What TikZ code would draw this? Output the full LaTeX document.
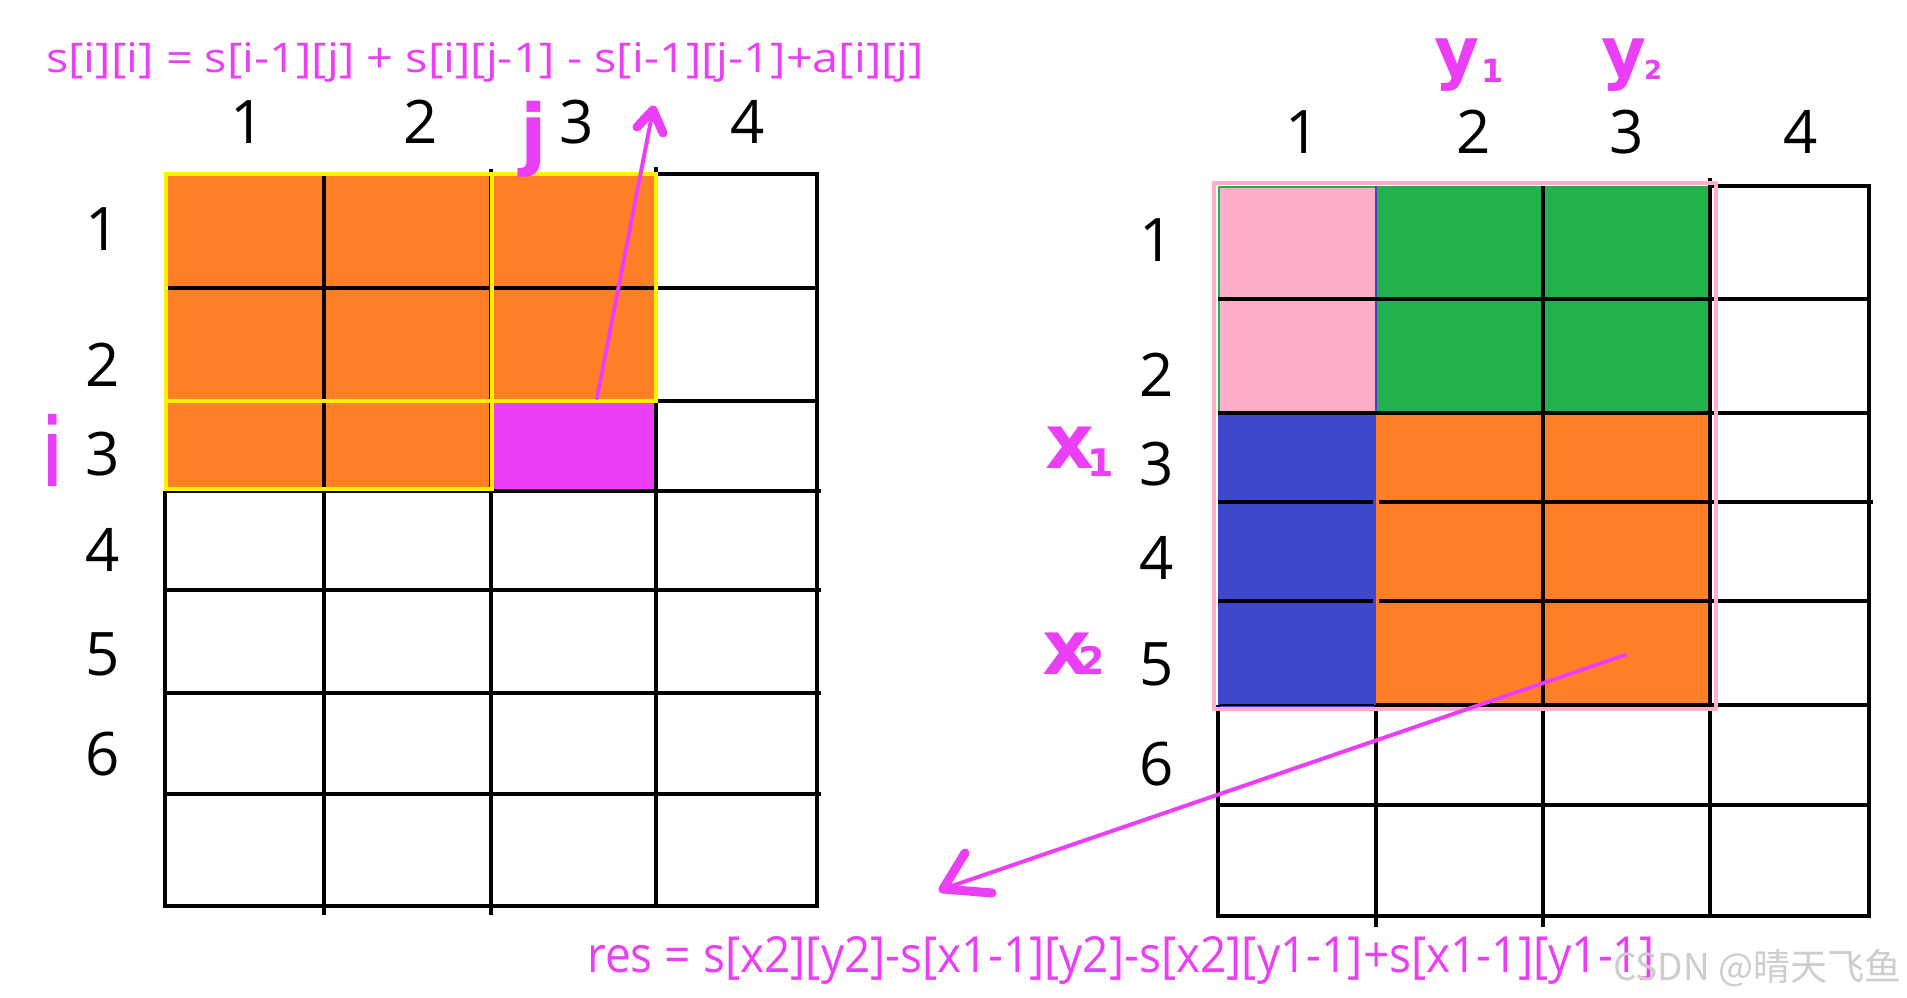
\documentclass[tikz,border=0pt]{standalone}
\usepackage{graphicx}
\usepackage{fontspec}
\setmainfont{Open Sans}
\newfontfamily\cjkfont{Noto Sans CJK SC}
\newfontfamily\handfont{DejaVu Sans}
\definecolor{porange}{HTML}{FF7F27}
\definecolor{pmag}{HTML}{EA3FF7}
\definecolor{pyellow}{HTML}{FFF200}
\definecolor{ppink}{HTML}{FFAEC9}
\definecolor{pgreen}{HTML}{22B14C}
\definecolor{pblue}{HTML}{3F48CC}
\definecolor{wmgray}{HTML}{CDCDCD}
\tikzset{
  gridline/.style={black, line width=4pt},
  yline/.style={pyellow, line width=4pt},
  lab/.style={inner sep=0pt, font=\fontsize{60}{60}\selectfont},
  hand/.style={inner sep=0pt, text=pmag, anchor=base},
  handb/.style={inner sep=0pt, text=pmag, anchor=base west, font=\handfont\bfseries},
  formula/.style={inner sep=0pt, text=pmag, anchor=base west},
  pen/.style={pmag, line width=4pt, line cap=round, line join=round},
  penhead/.style={pmag, line width=9pt, line cap=round, line join=round},
}
\begin{document}
\begin{tikzpicture}[x=1pt,y=-1pt]
\useasboundingbox[fill=white] (0,0) rectangle (1907,998);

% ---------- left grid ----------
\fill[porange] (165,174) rectangle (656,491);
\fill[pmag] (491,401) rectangle (656,491);
\draw[gridline] (656,174) -- (817,174);
\draw[gridline] (165,288) -- (817,288);
\draw[gridline] (656,401) -- (817,401);
\foreach \yy in {491,590,693,794} \draw[gridline] (165,\yy) -- (821,\yy);
\draw[gridline] (163,906) -- (819,906);
\draw[gridline] (165,491) -- (165,906);
\draw[gridline] (323.5,174) -- (323.5,915);
\draw[gridline] (491,169) -- (491,915);
\draw[gridline] (656,167) -- (656,906);
\draw[gridline] (817,172) -- (817,908);
\draw[yline] (166,174) rectangle (656,401);
\draw[yline] (166,174) rectangle (492,489);

\node[lab] (lc1) at (248,122) {1};
\node[lab] (lc2) at (421,122) {2};
\node[lab] (lc3) at (577,122) {3};
\node[lab] (lc4) at (748,122) {4};
\node[lab] (lr1) at (103,229) {1};
\node[lab] (lr2) at (103,365) {2};
\node[lab] (lr3) at (103,454) {3};
\node[lab] (lr4) at (103,550) {4};
\node[lab] (lr5) at (103,654) {5};
\node[lab] (lr6) at (103,754) {6};

\node[hand, font=\handfont\fontsize{95}{95}\selectfont] (hi) at (53,486) {i};
\node[hand, font=\handfont\bfseries\fontsize{78}{78}\selectfont] (hj) at (534,160) {j};

\coordinate (la0) at (597,398);
\coordinate (la1) at (653,110);
\coordinate (lh1) at (637,127);
\coordinate (lh2) at (663,133);
\draw[pen] (la0) -- (la1);
\draw[penhead] (lh1) -- (la1) -- (lh2);

\node[formula] (f1) at (46,73) {\resizebox{878pt}{30pt}{\fontsize{38}{38}\selectfont s[i][i] = s[i-1][j] + s[i][j-1] - s[i-1][j-1]+a[i][j]}};

% ---------- right grid ----------
\fill[ppink] (1218,186) rectangle (1376,413);
\fill[pgreen] (1376,186) rectangle (1710,413);
\fill[pblue] (1218,413) rectangle (1376,707);
\fill[porange] (1376,413) rectangle (1710,705);
\draw[pgreen, line width=2pt] (1219,187) rectangle (1709,412);
\draw[pblue, line width=2pt] (1376,186) -- (1376,413);
\draw[gridline] (1710,186) -- (1869,186);
\draw[gridline] (1218,299) -- (1869,299);
\draw[gridline] (1218,413) -- (1869,413);
\draw[gridline] (1218,502) -- (1373,502);
\draw[gridline] (1379,502) -- (1873,502);
\draw[gridline] (1218,601) -- (1373,601);
\draw[gridline] (1379,601) -- (1869,601);
\draw[black, line width=1.5pt] (1220,705) -- (1374,705);
\draw[gridline] (1376,705) -- (1869,705);
\draw[gridline] (1216,805) -- (1869,805);
\draw[gridline] (1216,916) -- (1871,916);
\draw[gridline] (1218,705) -- (1218,916);
\draw[gridline] (1376,705) -- (1376,927);
\draw[gridline] (1543,186) -- (1543,927);
\draw[gridline] (1710,178) -- (1710,916);
\draw[gridline] (1869,184) -- (1869,918);
\draw[ppink, line width=4pt] (1214,183) rectangle (1716,709);

\node[lab] (rc1) at (1303,132) {1};
\node[lab] (rc2) at (1474,132) {2};
\node[lab] (rc3) at (1627,132) {3};
\node[lab] (rc4) at (1801,132) {4};
\node[lab] (rr1) at (1157,240) {1};
\node[lab] (rr2) at (1157,375) {2};
\node[lab] (rr3) at (1157,464) {3};
\node[lab] (rr4) at (1157,558) {4};
\node[lab] (rr5) at (1157,664) {5};
\node[lab] (rr6) at (1157,764) {6};

\node[handb, font=\handfont\bfseries\fontsize{69}{69}\selectfont] (hy1) at (1434,77) {y\kern2pt\raisebox{-6pt}{\fontsize{32}{32}\selectfont 1}};
\node[handb, font=\handfont\bfseries\fontsize{69}{69}\selectfont] (hy2) at (1601,77) {y\kern-2pt\raisebox{-3pt}{\fontsize{26}{26}\selectfont 2}};
\node[handb, font=\handfont\bfseries\fontsize{76}{76}\selectfont] (hx1) at (1045,468) {x\kern-7pt\raisebox{-8pt}{\fontsize{38}{38}\selectfont 1}};
\node[handb, font=\handfont\bfseries\fontsize{76}{76}\selectfont] (hx2) at (1042,674) {x\kern-13pt\raisebox{0pt}{\fontsize{38}{38}\selectfont 2}};

\coordinate (ra0) at (1625,655);
\coordinate (ra1) at (943,889);
\coordinate (rh1) at (965,853);
\coordinate (rh2) at (992,893);
\draw[pen] (ra0) -- (ra1);
\draw[penhead] (rh1) -- (ra1) -- (rh2);

\node[formula] (f2) at (587,972) {\resizebox{1067pt}{36pt}{\fontsize{46}{46}\selectfont res = s[x2][y2]-s[x1-1][y2]-s[x2][y1-1]+s[x1-1][y1-1]}};

\node[inner sep=0pt, anchor=base west, text=wmgray, font=\cjkfont\fontsize{37}{37}\selectfont] (wm) at (1613,980) {CSDN @晴天飞鱼};
\end{tikzpicture}
\end{document}
